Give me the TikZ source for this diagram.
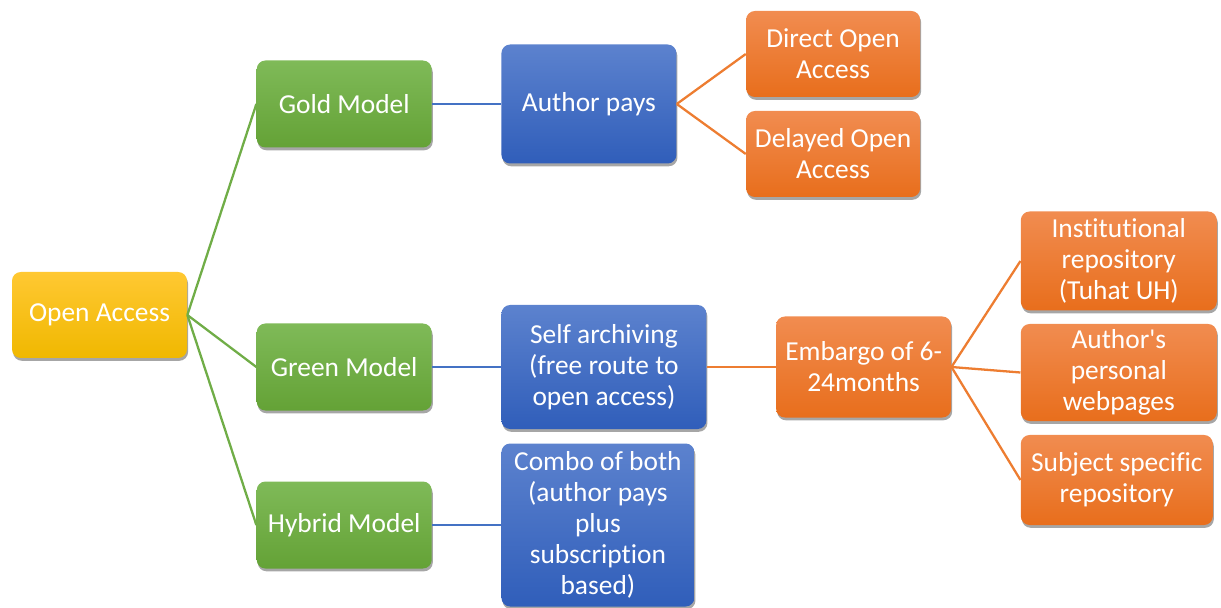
\documentclass[tikz,border=0pt]{standalone}
\usepackage{fontspec}
\setmainfont{Carlito}[Ligatures={TeXOff,CommonOff}]
\usetikzlibrary{positioning, shadows}

% fills (top / bottom of each box) and connector colours
\definecolor{goldtop}{RGB}{255,200,50}
\definecolor{goldbot}{RGB}{240,184,0}
\definecolor{greentop}{RGB}{127,186,88}
\definecolor{greenbot}{RGB}{100,162,54}
\definecolor{bluetop}{RGB}{92,130,206}
\definecolor{bluebot}{RGB}{48,94,186}
\definecolor{orangetop}{RGB}{241,140,80}
\definecolor{orangebot}{RGB}{232,110,28}
\definecolor{greenln}{HTML}{70AD47}
\definecolor{blueln}{HTML}{4472C4}
\definecolor{orangeln}{HTML}{ED7D31}

\begin{document}
\begin{tikzpicture}[
    node distance=1cm and 1.38cm,
    box/.style={rounded corners=5pt, align=center, text=white, inner sep=2pt,
      font=\fontsize{15.6}{17.6}\selectfont,
      drop shadow={shadow xshift=0.6pt, shadow yshift=-1.6pt, opacity=0.35, fill=black}},
    rootbox/.style={box, top color=goldtop, bottom color=goldbot},
    modelbox/.style={box, top color=greentop, bottom color=greenbot, minimum width=3.5cm, minimum height=1.74cm},
    routebox/.style={box, top color=bluetop, bottom color=bluebot},
    leafbox/.style={box, top color=orangetop, bottom color=orangebot},
    greenlink/.style={draw=greenln, line width=1.3pt},
    bluelink/.style={draw=blueln, line width=1.3pt},
    orangelink/.style={draw=orangeln, line width=1.3pt},
  ]
    \useasboundingbox (0,0) rectangle (24.42,-12.16);

    % Root
    \node[rootbox, minimum width=3.5cm, minimum height=1.72cm] (oa) at (1.99,-6.3) {Open Access};

    % Models
    \node[modelbox, right=of oa, yshift=4.22cm] (gold) {Gold Model};
    \node[modelbox, right=of oa, yshift=-1.04cm] (green) {Green Model};
    \node[modelbox, right=of oa, yshift=-4.2cm] (hybrid) {Hybrid Model};

    % Routes
    \node[routebox, right=of gold, minimum width=3.5cm, minimum height=2.38cm] (pays) {Author pays};
    \node[routebox, right=of green, minimum width=4.1cm, minimum height=2.48cm] (self) {Self archiving\\(free route to\\open access)};
    \node[routebox, right=of hybrid, minimum width=3.86cm, minimum height=3.26cm] (combo) {Combo of both\\(author pays\\plus\\subscription\\based)};

    % Gold branch
    \node[leafbox, right=of pays, yshift=1cm, minimum width=3.48cm, minimum height=1.72cm] (direct) {Direct Open\\Access};
    \node[leafbox, right=of pays, yshift=-1cm, minimum width=3.48cm, minimum height=1.72cm] (delayed) {Delayed Open\\Access};

    % Green branch
    \node[leafbox, right=of self, minimum width=3.5cm, minimum height=2.02cm] (embargo) {Embargo of 6-\\24months};
    \node[leafbox, right=of embargo, yshift=2.12cm, minimum width=3.92cm, minimum height=1.98cm] (inst) {Institutional\\repository\\(Tuhat UH)};
    \node[leafbox, right=of embargo, yshift=-0.11cm, minimum width=3.92cm, minimum height=1.94cm] (pers) {Author's\\personal\\webpages};
    \node[leafbox, right=of embargo, yshift=-2.26cm, minimum width=3.84cm, minimum height=1.8cm] (subj) {Subject specific\\repository};

    % Links
    \draw[greenlink] (oa.east) -- (gold.west);
    \draw[greenlink] (oa.east) -- (green.west);
    \draw[greenlink] (oa.east) -- (hybrid.west);
    \draw[bluelink] (gold.east) -- (pays.west);
    \draw[bluelink] (green.east) -- (self.west);
    \draw[bluelink] (hybrid.east) -- (combo.west);
    \draw[orangelink] (pays.east) -- (direct.west);
    \draw[orangelink] (pays.east) -- (delayed.west);
    \draw[orangelink] (self.east) -- (embargo.west);
    \draw[orangelink] (embargo.east) -- (inst.west);
    \draw[orangelink] (embargo.east) -- (pers.west);
    \draw[orangelink] (embargo.east) -- (subj.west);
\end{tikzpicture}
\end{document}
